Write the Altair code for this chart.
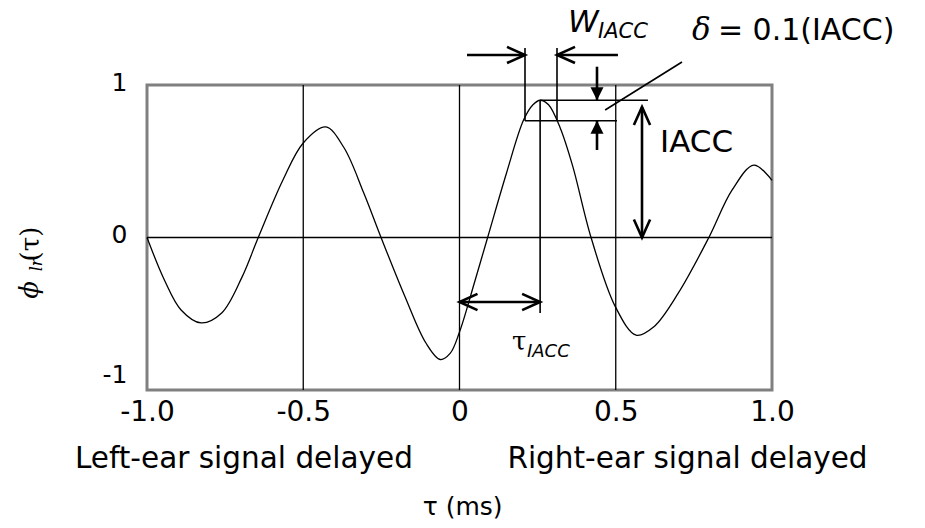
import json
import altair as alt
import pandas as pd

# ---------------- data ----------------
tau = [-1.0, -0.944, -0.891, -0.827, -0.761, -0.696, -0.644, -0.565, -0.50, -0.428,
       -0.37, -0.306, -0.251, -0.174, -0.108, -0.062, -0.03, 0.0, 0.05, 0.09,
       0.15, 0.205, 0.235, 0.258, 0.285, 0.322, 0.362, 0.421, 0.499, 0.565,
       0.622, 0.70, 0.798, 0.872, 0.942, 1.0]
phi = [0.0, -0.28, -0.475, -0.56, -0.495, -0.26, 0.0, 0.377, 0.62, 0.725,
       0.59, 0.29, 0.0, -0.39, -0.69, -0.80, -0.76, -0.62, -0.28, 0.0,
       0.42, 0.77, 0.87, 0.90, 0.87, 0.72, 0.47, 0.0, -0.455, -0.64,
       -0.585, -0.365, 0.0, 0.31, 0.475, 0.375]

x_ticks = [-1.0, -0.5, 0.0, 0.5, 1.0]
x_tick_labels = ["-1.0", "-0.5", "0", "0.5", "1.0"]
y_ticks = [-1.0, 0.0, 1.0]
y_tick_labels = ["-1", "0", "1"]

grid_x = [-0.5, 0.0, 0.5]
grid_y = [0.0]

# thin annotation lines (delta box, tau_IACC drop line, W_IACC guides, leader)
thin_x1 = [0.258, 0.2096, 0.258, 0.2096, 0.312, 0.466]
thin_y1 = [0.90, 0.766, 0.90, 1.243, 1.243, 0.836]
thin_x2 = [0.603, 0.504, 0.258, 0.2096, 0.312, 0.712]
thin_y2 = [0.90, 0.766, -0.495, 0.766, 0.766, 1.151]

# thick arrow shafts
arr_x1 = [0.024, 0.507, 0.44, 0.44, 0.584, 0.0]
arr_y1 = [1.197, 1.197, 1.12, 0.574, 0.856, -0.423]
arr_x2 = [0.2096, 0.312, 0.44, 0.44, 0.584, 0.258]
arr_y2 = [1.197, 1.197, 0.90, 0.766, 0.0, -0.423]

# arrow heads (tips)
head_right_x, head_right_y = [0.2096, 0.258], [1.197, -0.423]
head_left_x, head_left_y = [0.312, 0.0], [1.197, -0.423]
head_up_x, head_up_y = [0.584], [0.856]
head_down_x, head_down_y = [0.584], [0.0]
tri_down_x, tri_down_y = [0.44], [0.90]
tri_up_x, tri_up_y = [0.44], [0.766]

# text labels
bottom_texts = ["Left-ear signal delayed", "Right-ear signal delayed"]
bottom_x = [-0.69, 0.7296]
bottom_y = [-1.511, -1.511]

FONT = "DejaVu Sans"
SERIF = "DejaVu Serif"

xs = alt.Scale(domain=[-1, 1], nice=False, zero=False)
ys = alt.Scale(domain=[-1, 1], nice=False, zero=False)

x_label_expr = "{}[indexof({}, datum.value)]".format(json.dumps(x_tick_labels), json.dumps(x_ticks))
y_label_expr = "{}[indexof({}, datum.value)]".format(json.dumps(y_tick_labels), json.dumps(y_ticks))

curve_df = pd.DataFrame({"tau": tau, "phi": phi})

curve = alt.Chart(curve_df).mark_line(
    color="black", strokeWidth=1.3, interpolate="catmull-rom", clip=False
).encode(
    x=alt.X("tau:Q", scale=xs, axis=alt.Axis(
        values=x_ticks, labelExpr=x_label_expr, title=None, grid=False,
        ticks=False, tickSize=0, domain=False, labelFont=FONT, labelFontSize=28,
        labelColor="black", labelPadding=8, labelFlush=False, labelOverlap=False)),
    y=alt.Y("phi:Q", scale=ys, axis=alt.Axis(
        values=y_ticks, labelExpr=y_label_expr, title=None, grid=False,
        ticks=False, tickSize=0, domain=False, labelFont=FONT, labelFontSize=25,
        labelColor="black", labelPadding=20, labelFlush=False, labelOverlap=False,
        labelOffset={"condition": {"test": "datum.value < 0", "value": -16}, "value": -3})),
)

gx = alt.Chart(pd.DataFrame({"g": grid_x})).mark_rule(color="black", strokeWidth=1.3).encode(
    x=alt.X("g:Q", scale=xs))
gy = alt.Chart(pd.DataFrame({"g": grid_y})).mark_rule(color="black", strokeWidth=1.3).encode(
    y=alt.Y("g:Q", scale=ys))

thin = alt.Chart(pd.DataFrame({"x1": thin_x1, "y1": thin_y1, "x2": thin_x2, "y2": thin_y2})).mark_rule(
    color="black", strokeWidth=1.6, clip=False
).encode(x=alt.X("x1:Q", scale=xs), y=alt.Y("y1:Q", scale=ys), x2="x2:Q", y2="y2:Q")

thick = alt.Chart(pd.DataFrame({"x1": arr_x1, "y1": arr_y1, "x2": arr_x2, "y2": arr_y2})).mark_rule(
    color="black", strokeWidth=2.6, clip=False
).encode(x=alt.X("x1:Q", scale=xs), y=alt.Y("y1:Q", scale=ys), x2="x2:Q", y2="y2:Q")

CHEVRON = "M-1,-0.45L0,0L-1,0.45"
TRIANGLE = "M0,0L-0.5,-1L0.5,-1Z"


def heads(xv, yv, angle, shape, filled, size):
    df = pd.DataFrame({"x": xv, "y": yv})
    kw = dict(shape=shape, size=size, filled=filled, color="black", opacity=1,
              strokeWidth=2.6, clip=False)
    if angle:
        kw["angle"] = angle
    return alt.Chart(df).mark_point(**kw).encode(
        x=alt.X("x:Q", scale=xs), y=alt.Y("y:Q", scale=ys))


head_layers = [
    heads(head_right_x, head_right_y, 0, CHEVRON, False, 1296),
    heads(head_left_x, head_left_y, 180, CHEVRON, False, 1296),
    heads(head_up_x, head_up_y, 270, CHEVRON, False, 1296),
    heads(head_down_x, head_down_y, 90, CHEVRON, False, 1296),
    heads(tri_down_x, tri_down_y, 0, TRIANGLE, True, 676),
    heads(tri_up_x, tri_up_y, 180, TRIANGLE, True, 676),
]


def txt(texts, xv, yv, size, font=FONT, style="normal", align="left", angle=None, baseline="alphabetic"):
    df = pd.DataFrame({"t": texts, "x": xv, "y": yv})
    kw = dict(font=font, fontSize=size, fontStyle=style, align=align, baseline=baseline,
              color="black", clip=False)
    if angle is not None:
        kw["angle"] = angle
    return alt.Chart(df).mark_text(**kw).encode(
        x=alt.X("x:Q", scale=xs), y=alt.Y("y:Q", scale=ys), text="t:N")


text_layers = [
    txt(bottom_texts, bottom_x, bottom_y, 29.5, align="center"),
    txt(["τ (ms)"], [0.01], [-1.82], 25, align="center"),
    txt(["IACC"], [0.6416], [0.561], 31),
    txt(["= 0.1(IACC)"], [0.827], [1.295], 30),
    txt(["δ"], [0.744], [1.295], 31, font=SERIF, style="italic"),
    txt(["W"], [0.347], [1.348], 31, style="italic"),
    txt(["IACC"], [0.443], [1.308], 21, style="italic"),
    txt(["τ"], [0.168], [-0.738], 26, font=SERIF),
    txt(["IACC"], [0.216], [-0.784], 18, style="italic"),
    txt(["ϕ"], [-1.350], [-0.344], 26, font=SERIF, style="italic", align="center", angle=270),
    txt(["lr"], [-1.335], [-0.180], 16, font=SERIF, style="italic", align="center", angle=270),
    txt(["(τ)"], [-1.3456], [-0.043], 26, font=SERIF, align="center", angle=270),
]

chart = alt.layer(gx, gy, curve, thin, thick, *head_layers, *text_layers).properties(
    width=625, height=305,
    autosize=alt.AutoSizeParams(type="none"),
    padding={"left": 147, "top": 85, "right": 153, "bottom": 138},
    background="white",
).configure_view(stroke="#808080", strokeWidth=3)

chart.save("out.html", embed_options={"renderer": "svg", "actions": False})
